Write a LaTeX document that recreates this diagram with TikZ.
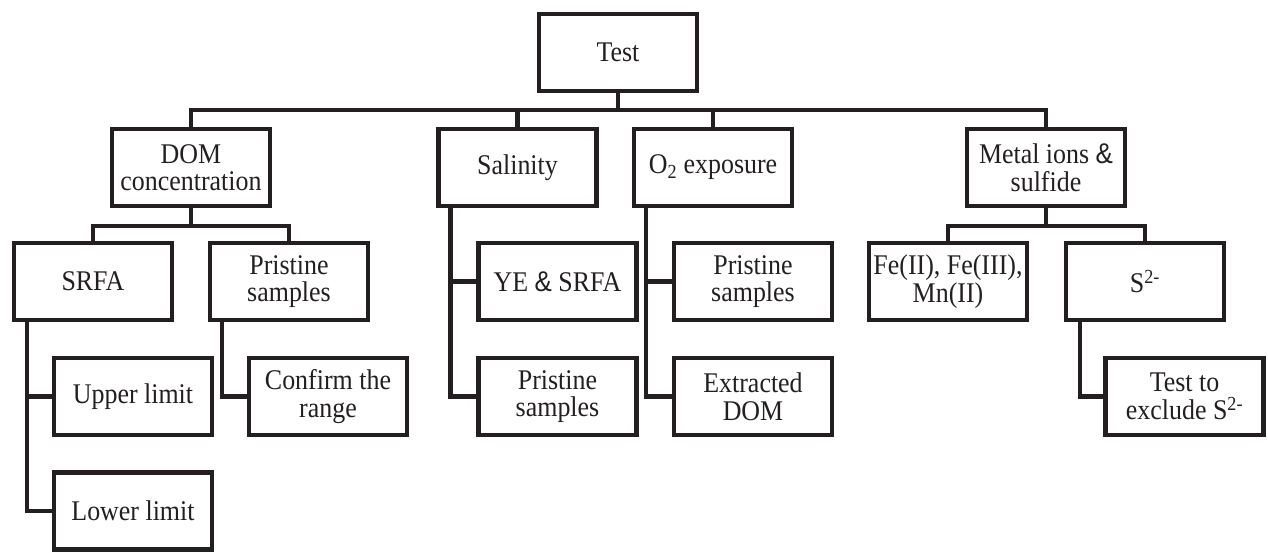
\documentclass[tikz,border=0pt]{standalone}
\usepackage{fontspec}
\setmainfont{Liberation Serif}[FakeStretch=0.91]
\setsansfont{Liberation Sans}[FakeStretch=0.91]
\definecolor{ink}{RGB}{35,31,32}
\newcommand{\amp}{{\sffamily\&}}
\begin{document}
\begin{tikzpicture}[x=1pt,y=-1pt,
  box/.style={draw=ink, line width=4.2pt, minimum width=158pt, minimum height=77pt,
    inner sep=1pt, align=center, text=ink, font=\fontsize{28.5}{27.5}\selectfont},
  link/.style={draw=ink, line width=4.2pt}]
\useasboundingbox (0,0) rectangle (1268,552);
% level 0
\node[box] (test) at (618,52.5) {Test};
% level 1
\node[box] (dom)   at (191,167.5)  {DOM\\concentration};
\node[box] (sal)   at (517.5,167.5) {Salinity};
\node[box] (oxy)   at (713,167.5)  {O\textsubscript{2} exposure};
\node[box] (metal) at (1046,167.5) {Metal ions \amp\\sulfide};
% level 2
\node[box] (srfa)  at (93,281.5)   {SRFA};
\node[box] (pris1) at (289,281.5)  {Pristine\\samples};
\node[box] (ye)    at (557.5,281.5) {YE \amp{} SRFA};
\node[box] (pris3) at (753,281.5)  {Pristine\\samples};
\node[box] (fe)    at (948,281.5)  {Fe(II), Fe(III),\\Mn(II)};
\node[box] (sulf)  at (1145,281.5) {S\textsuperscript{2-}};
% level 3
\node[box] (upper) at (133,396.5)  {Upper limit};
\node[box] (conf)  at (328,396.5)  {Confirm the\\range};
\node[box] (pris2) at (557.5,396.5) {Pristine\\samples};
\node[box] (extr)  at (753,396.5)  {Extracted\\DOM};
\node[box] (excl)  at (1184.5,396.5) {Test to\\exclude S\textsuperscript{2-}};
% level 4
\node[box] (lower) at (133,511)    {Lower limit};
% main bus
\coordinate (bus0) at (618,110);
\draw[link] (test.south) -- (bus0);
\draw[link] (bus0) -| (dom.north);
\draw[link] (bus0) -| (sal.north);
\draw[link] (bus0) -| (oxy.north);
\draw[link] (bus0) -| (metal.north);
% DOM sub-bus
\coordinate (bus1) at (191,226);
\draw[link] (dom.south) -- (bus1);
\draw[link] (bus1) -| (srfa.north);
\draw[link] (bus1) -| (pris1.north);
% Metal sub-bus
\coordinate (bus2) at (1046,226);
\draw[link] (metal.south) -- (bus2);
\draw[link] (bus2) -| (fe.north);
\draw[link] (bus2) -| (sulf.north);
% side stems
\draw[link] ([xshift=15pt]srfa.south west) |- (upper.west);
\draw[link] ([xshift=15pt]srfa.south west) |- (lower.west);
\draw[link] ([xshift=14pt]pris1.south west) |- (conf.west);
\draw[link] ([xshift=14pt]sal.south west) |- (ye.west);
\draw[link] ([xshift=14pt]sal.south west) |- (pris2.west);
\draw[link] ([xshift=14pt]oxy.south west) |- (pris3.west);
\draw[link] ([xshift=14pt]oxy.south west) |- (extr.west);
\draw[link] ([xshift=16pt]sulf.south west) |- (excl.west);
\end{tikzpicture}
\end{document}
